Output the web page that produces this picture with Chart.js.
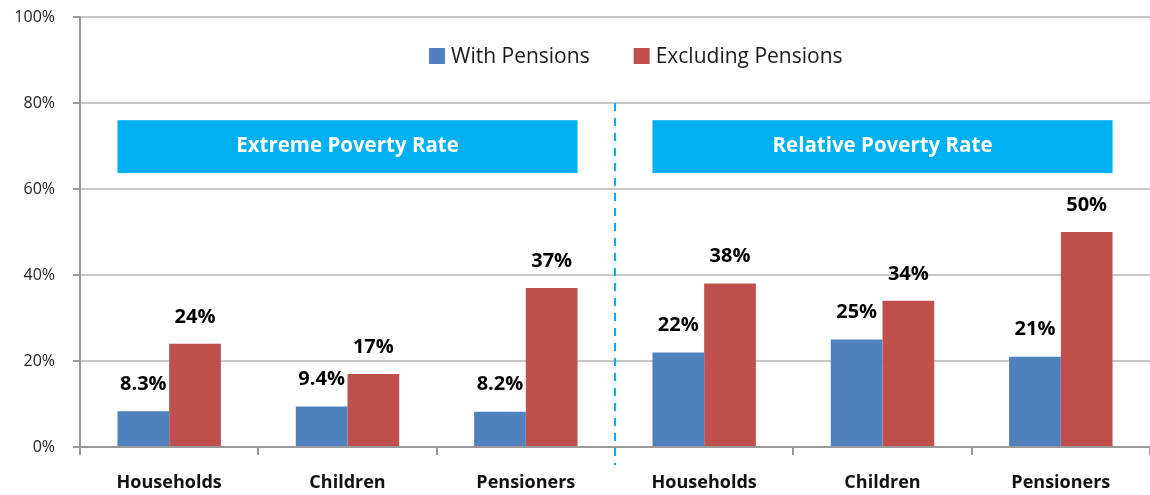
<!DOCTYPE html>
<html>
<head>
<meta charset="utf-8">
<script src="https://cdn.jsdelivr.net/npm/chart.js@4"></script>
<style>
  html, body { margin: 0; padding: 0; background: #fff; }
  #wrap { width: 1150px; height: 495px; }
</style>
</head>
<body>
<div id="wrap"><canvas id="grafico"></canvas></div>
<script>
const categorias = ["Households", "Children", "Pensioners", "Households", "Children", "Pensioners"];
const conPensiones = [8.3, 9.4, 8.2, 22, 25, 21];
const sinPensiones = [24, 17, 37, 38, 34, 50];
const series = ["With Pensions", "Excluding Pensions"];
const grupos = ["Extreme Poverty Rate", "Relative Poverty Rate"];
const ticksY = [0, 20, 40, 60, 80, 100];

const azul = "#4F81BD";
const rojo = "#C0504D";
const cian = "#00B0F0";

function formato(v) {
    return v < 10 ? v.toFixed(1) + "%" : Math.round(v) + "%";
}

// etiquetas, banners, linea divisoria y leyenda dibujadas a mano
const extras = {
    id: "extras",
    beforeDatasetsDraw(chart) {
        const ctx = chart.ctx;
        const x = chart.scales.x, y = chart.scales.y;
        const m0 = chart.getDatasetMeta(0), m1 = chart.getDatasetMeta(1);
        ctx.save();
        // banners
        const top = y.getPixelForValue(76), bot = y.getPixelForValue(63.7);
        for (let g = 0; g < 2; g++) {
            const a = m0.data[g * 3], b = m1.data[g * 3 + 2];
            const x1 = a.x - a.width / 2, x2 = b.x + b.width / 2;
            ctx.fillStyle = cian;
            ctx.fillRect(x1, top, x2 - x1, bot - top);
            ctx.fillStyle = "#fff";
            ctx.font = "bold 20.5px 'Open Sans'";
            ctx.textAlign = "center";
            ctx.textBaseline = "middle";
            ctx.fillText(grupos[g], (x1 + x2) / 2, (top + bot) / 2);
        }
        // linea divisoria
        const xd = (x.getPixelForValue(2) + x.getPixelForValue(3)) / 2;
        ctx.strokeStyle = cian;
        ctx.lineWidth = 2;
        ctx.setLineDash([8, 7]);
        ctx.beginPath();
        ctx.moveTo(xd, y.getPixelForValue(80));
        ctx.lineTo(xd, y.bottom + 18);
        ctx.stroke();
        ctx.setLineDash([]);
        // leyenda
        ctx.font = "21px 'Open Sans'";
        ctx.textAlign = "left";
        ctx.textBaseline = "middle";
        const ly = 56;
        let lx = 429;
        const colores = [azul, rojo];
        for (let i = 0; i < series.length; i++) {
            ctx.fillStyle = colores[i];
            ctx.fillRect(lx, ly - 8, 16, 16);
            ctx.fillStyle = "#1a1a1a";
            ctx.fillText(series[i], lx + 22, ly + 1);
            lx += 22 + ctx.measureText(series[i]).width + 44;
        }
        ctx.restore();
    },
    afterDatasetsDraw(chart) {
        const ctx = chart.ctx;
        ctx.save();
        ctx.font = "bold 20px 'Open Sans'";
        ctx.fillStyle = "#000";
        ctx.textAlign = "center";
        ctx.textBaseline = "middle";
        chart.data.datasets.forEach((ds, i) => {
            chart.getDatasetMeta(i).data.forEach((bar, j) => {
                ctx.fillText(formato(ds.data[j]), bar.x, bar.y - 27);
            });
        });
        ctx.restore();
    }
};

new Chart(document.getElementById("grafico"), {
    type: "bar",
    data: {
        labels: categorias,
        datasets: [{
            label: series[0],
            data: conPensiones,
            backgroundColor: azul
        }, {
            label: series[1],
            data: sinPensiones,
            backgroundColor: rojo
        }]
    },
    options: {
        responsive: true,
        maintainAspectRatio: false,
        animation: false,
        layout: { padding: { top: 17, right: -8, bottom: 0, left: 0 } },
        datasets: { bar: { barPercentage: 1, categoryPercentage: 0.58 } },
        plugins: { legend: { display: false }, tooltip: { enabled: false } },
        scales: {
            y: {
                min: 0,
                max: 100,
                afterBuildTicks: axis => { axis.ticks = ticksY.map(v => ({ value: v })); },
                afterFit: s => { s.width = 80; s.paddingTop = 0; s.paddingBottom = 0; },
                ticks: {
                    callback: v => v + "%",
                    color: "#222",
                    font: { family: "'Open Sans'", size: 16 },
                    padding: 18
                },
                grid: { color: "#c8c8c8", lineWidth: 2, tickLength: 7, tickColor: "#999" },
                border: { color: "#999", width: 2 }
            },
            x: {
                afterFit: s => { s.height = 48; s.paddingLeft = 0; s.paddingRight = 0; },
                ticks: {
                    color: "#111",
                    font: { family: "'Open Sans'", size: 18, weight: "bold" },
                    padding: 17
                },
                grid: { offset: true, drawOnChartArea: false, tickLength: 8, color: "#999", lineWidth: 2 },
                border: { color: "#999", width: 2 }
            }
        }
    },
    plugins: [extras]
});
</script>
</body>
</html>
